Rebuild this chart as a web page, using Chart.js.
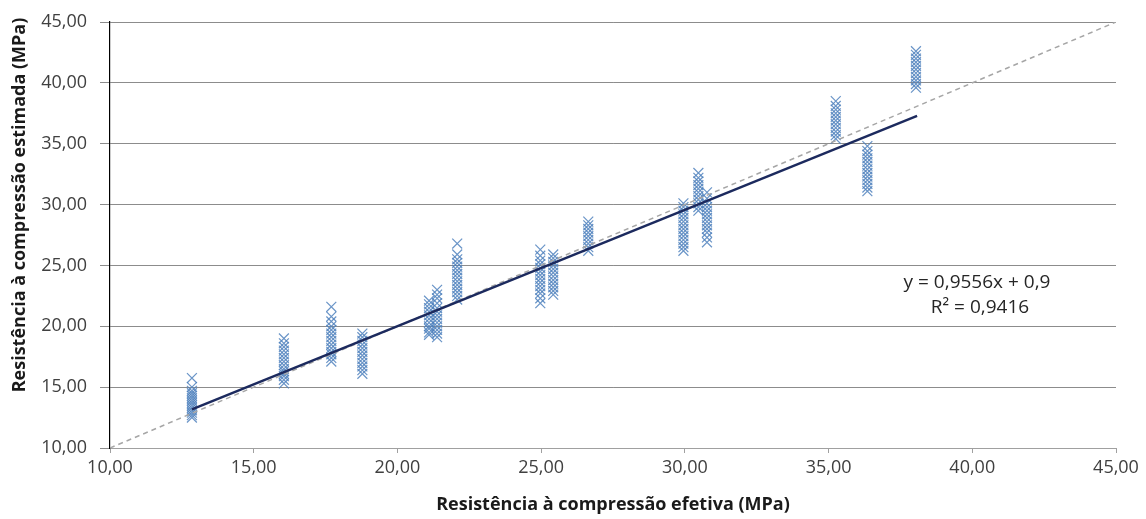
<!DOCTYPE html>
<html>
<head>
<meta charset="utf-8">
<script src="https://cdn.jsdelivr.net/npm/chart.js@4"></script>
<style>
  html, body { margin: 0; padding: 0; background: #fff; }
  #wrap { width: 1146px; height: 519px; position: relative; }
</style>
</head>
<body>
<div id="wrap"><canvas id="chart"></canvas></div>
<script>
// effective strength of each specimen group (x, MPa)
const effective = [12.85, 16.05, 17.7, 18.78, 21.1, 21.38, 22.08, 24.97, 25.42, 26.64, 29.95, 30.47, 30.77, 35.25, 36.35, 38.04];

// estimated strength, one list per group (y, MPa)
const estimated = [
  [12.5, 12.7, 12.9, 13.1, 13.3, 13.5, 13.7, 13.9, 14.1, 14.3, 14.5, 14.7, 15.0, 15.75],
  [15.3, 15.6, 15.9, 16.1, 16.3, 16.5, 16.8, 17.1, 17.4, 17.7, 18.0, 18.3, 18.6, 19.0],
  [17.1, 17.4, 17.7, 17.9, 18.2, 18.5, 18.8, 19.1, 19.4, 19.7, 20.0, 20.4, 20.8, 21.6],
  [16.1, 16.4, 16.7, 17.0, 17.3, 17.6, 17.9, 18.2, 18.5, 18.8, 19.1, 19.4],
  [19.3, 19.5, 19.8, 20.0, 20.3, 20.6, 20.9, 21.2, 21.5, 21.8, 22.1],
  [19.1, 19.4, 19.7, 20.0, 20.3, 20.6, 20.9, 21.2, 21.5, 21.9, 22.3, 22.6, 23.0],
  [22.2, 22.5, 22.8, 23.1, 23.4, 23.7, 24.0, 24.3, 24.6, 24.9, 25.2, 25.5, 25.9, 26.8],
  [21.9, 22.3, 22.7, 23.0, 23.3, 23.6, 23.9, 24.2, 24.5, 24.8, 25.1, 25.4, 25.8, 26.3],
  [22.6, 22.9, 23.2, 23.5, 23.8, 24.1, 24.4, 24.7, 25.0, 25.3, 25.6, 25.9],
  [26.2, 26.5, 26.8, 27.1, 27.4, 27.7, 28.0, 28.3, 28.6],
  [26.2, 26.5, 26.8, 27.1, 27.4, 27.7, 28.0, 28.3, 28.6, 28.9, 29.2, 29.5, 29.8, 30.1],
  [29.5, 29.8, 30.1, 30.4, 30.7, 31.0, 31.3, 31.6, 31.9, 32.2, 32.6],
  [26.9, 27.3, 27.7, 28.0, 28.3, 28.6, 28.9, 29.2, 29.5, 29.8, 30.1, 30.5, 31.0],
  [35.4, 35.7, 36.0, 36.3, 36.6, 36.9, 37.2, 37.5, 37.8, 38.1, 38.5],
  [31.1, 31.4, 31.7, 32.0, 32.3, 32.6, 32.9, 33.2, 33.5, 33.8, 34.1, 34.4, 34.8],
  [39.6, 39.9, 40.2, 40.5, 40.8, 41.1, 41.4, 41.7, 42.0, 42.3, 42.6]
];

// linear trendline shown in the chart
const trendSlope = 0.9556;
const trendIntercept = 0.9;
const trendRange = [12.85, 38.08];

// y = x reference line
const identityRange = [10, 45];

const axisMin = 10, axisMax = 45, axisStep = 5;

const yTitle = 'Resistência à compressão estimada (MPa)';
const xTitle = 'Resistência à compressão efetiva (MPa)';

const points = [];
effective.forEach((x, i) => {
  estimated[i].forEach(y => points.push({ x: x, y: y }));
});

const fmt = v => v.toFixed(2).replace('.', ',');

// equation box + y title, placed like the Excel original
const extraText = {
  id: 'extraText',
  afterDraw(chart) {
    const ctx = chart.ctx;
    ctx.save();
    ctx.fillStyle = '#262626';
    ctx.font = '19px "Open Sans", sans-serif';
    ctx.textAlign = 'center';
    ctx.textBaseline = 'middle';
    ctx.fillText('y = 0,9556x + 0,9', 977, 283);
    ctx.fillText('R² = 0,9416', 980, 308);

    ctx.translate(20, 205);
    ctx.rotate(-Math.PI / 2);
    ctx.fillStyle = '#1a1a1a';
    ctx.font = 'bold 18px "Open Sans", sans-serif';
    ctx.fillText(yTitle, 0, 0);
    ctx.restore();
  }
};

new Chart(document.getElementById('chart'), {
  type: 'scatter',
  data: {
    datasets: [
      {
        label: 'Estimada',
        data: points,
        pointStyle: 'crossRot',
        pointRadius: 7,
        pointHoverRadius: 7,
        borderColor: 'rgba(79, 129, 189, 0.85)',
        backgroundColor: 'rgba(79, 129, 189, 0.85)',
        borderWidth: 1.2,
        order: 3
      },
      {
        label: 'Tendência',
        type: 'line',
        data: trendRange.map(x => ({ x: x, y: trendSlope * x + trendIntercept })),
        borderColor: '#1c2a5e',
        borderWidth: 2.5,
        pointRadius: 0,
        order: 1
      },
      {
        label: 'y = x',
        type: 'line',
        data: identityRange.map(v => ({ x: v, y: v })),
        borderColor: '#a6a6a6',
        borderWidth: 1.5,
        borderDash: [5, 4],
        pointRadius: 0,
        order: 2
      }
    ]
  },
  options: {
    responsive: true,
    maintainAspectRatio: false,
    animation: false,
    layout: { padding: { top: 0, right: 30, left: 0, bottom: 0 } },
    plugins: {
      legend: { display: false },
      tooltip: { enabled: false }
    },
    scales: {
      x: {
        type: 'linear',
        min: axisMin,
        max: axisMax,
        afterFit: s => { s.height = 71; },
        ticks: {
          stepSize: axisStep,
          padding: 4,
          color: '#404040',
          font: { family: '"Open Sans", sans-serif', size: 18 },
          callback: fmt
        },
        grid: {
          drawOnChartArea: false,
          drawTicks: true,
          tickLength: 5,
          tickColor: '#a0a0a0'
        },
        border: { color: '#a0a0a0', width: 1 },
        title: {
          display: true,
          text: xTitle,
          color: '#1a1a1a',
          font: { family: '"Open Sans", sans-serif', size: 18, weight: 'bold' },
          padding: { top: 0, bottom: 3 }
        }
      },
      y: {
        type: 'linear',
        min: axisMin,
        max: axisMax,
        afterFit: s => { s.width = 110; },
        ticks: {
          stepSize: axisStep,
          padding: 13,
          color: '#404040',
          font: { family: '"Open Sans", sans-serif', size: 18, lineHeight: 1 },
          callback: fmt
        },
        grid: {
          color: '#8c8c8c',
          lineWidth: 1,
          tickLength: 10,
          tickColor: '#8c8c8c'
        },
        border: { color: '#000', width: 1.2 }
      }
    }
  },
  plugins: [extraText]
});
</script>
</body>
</html>
